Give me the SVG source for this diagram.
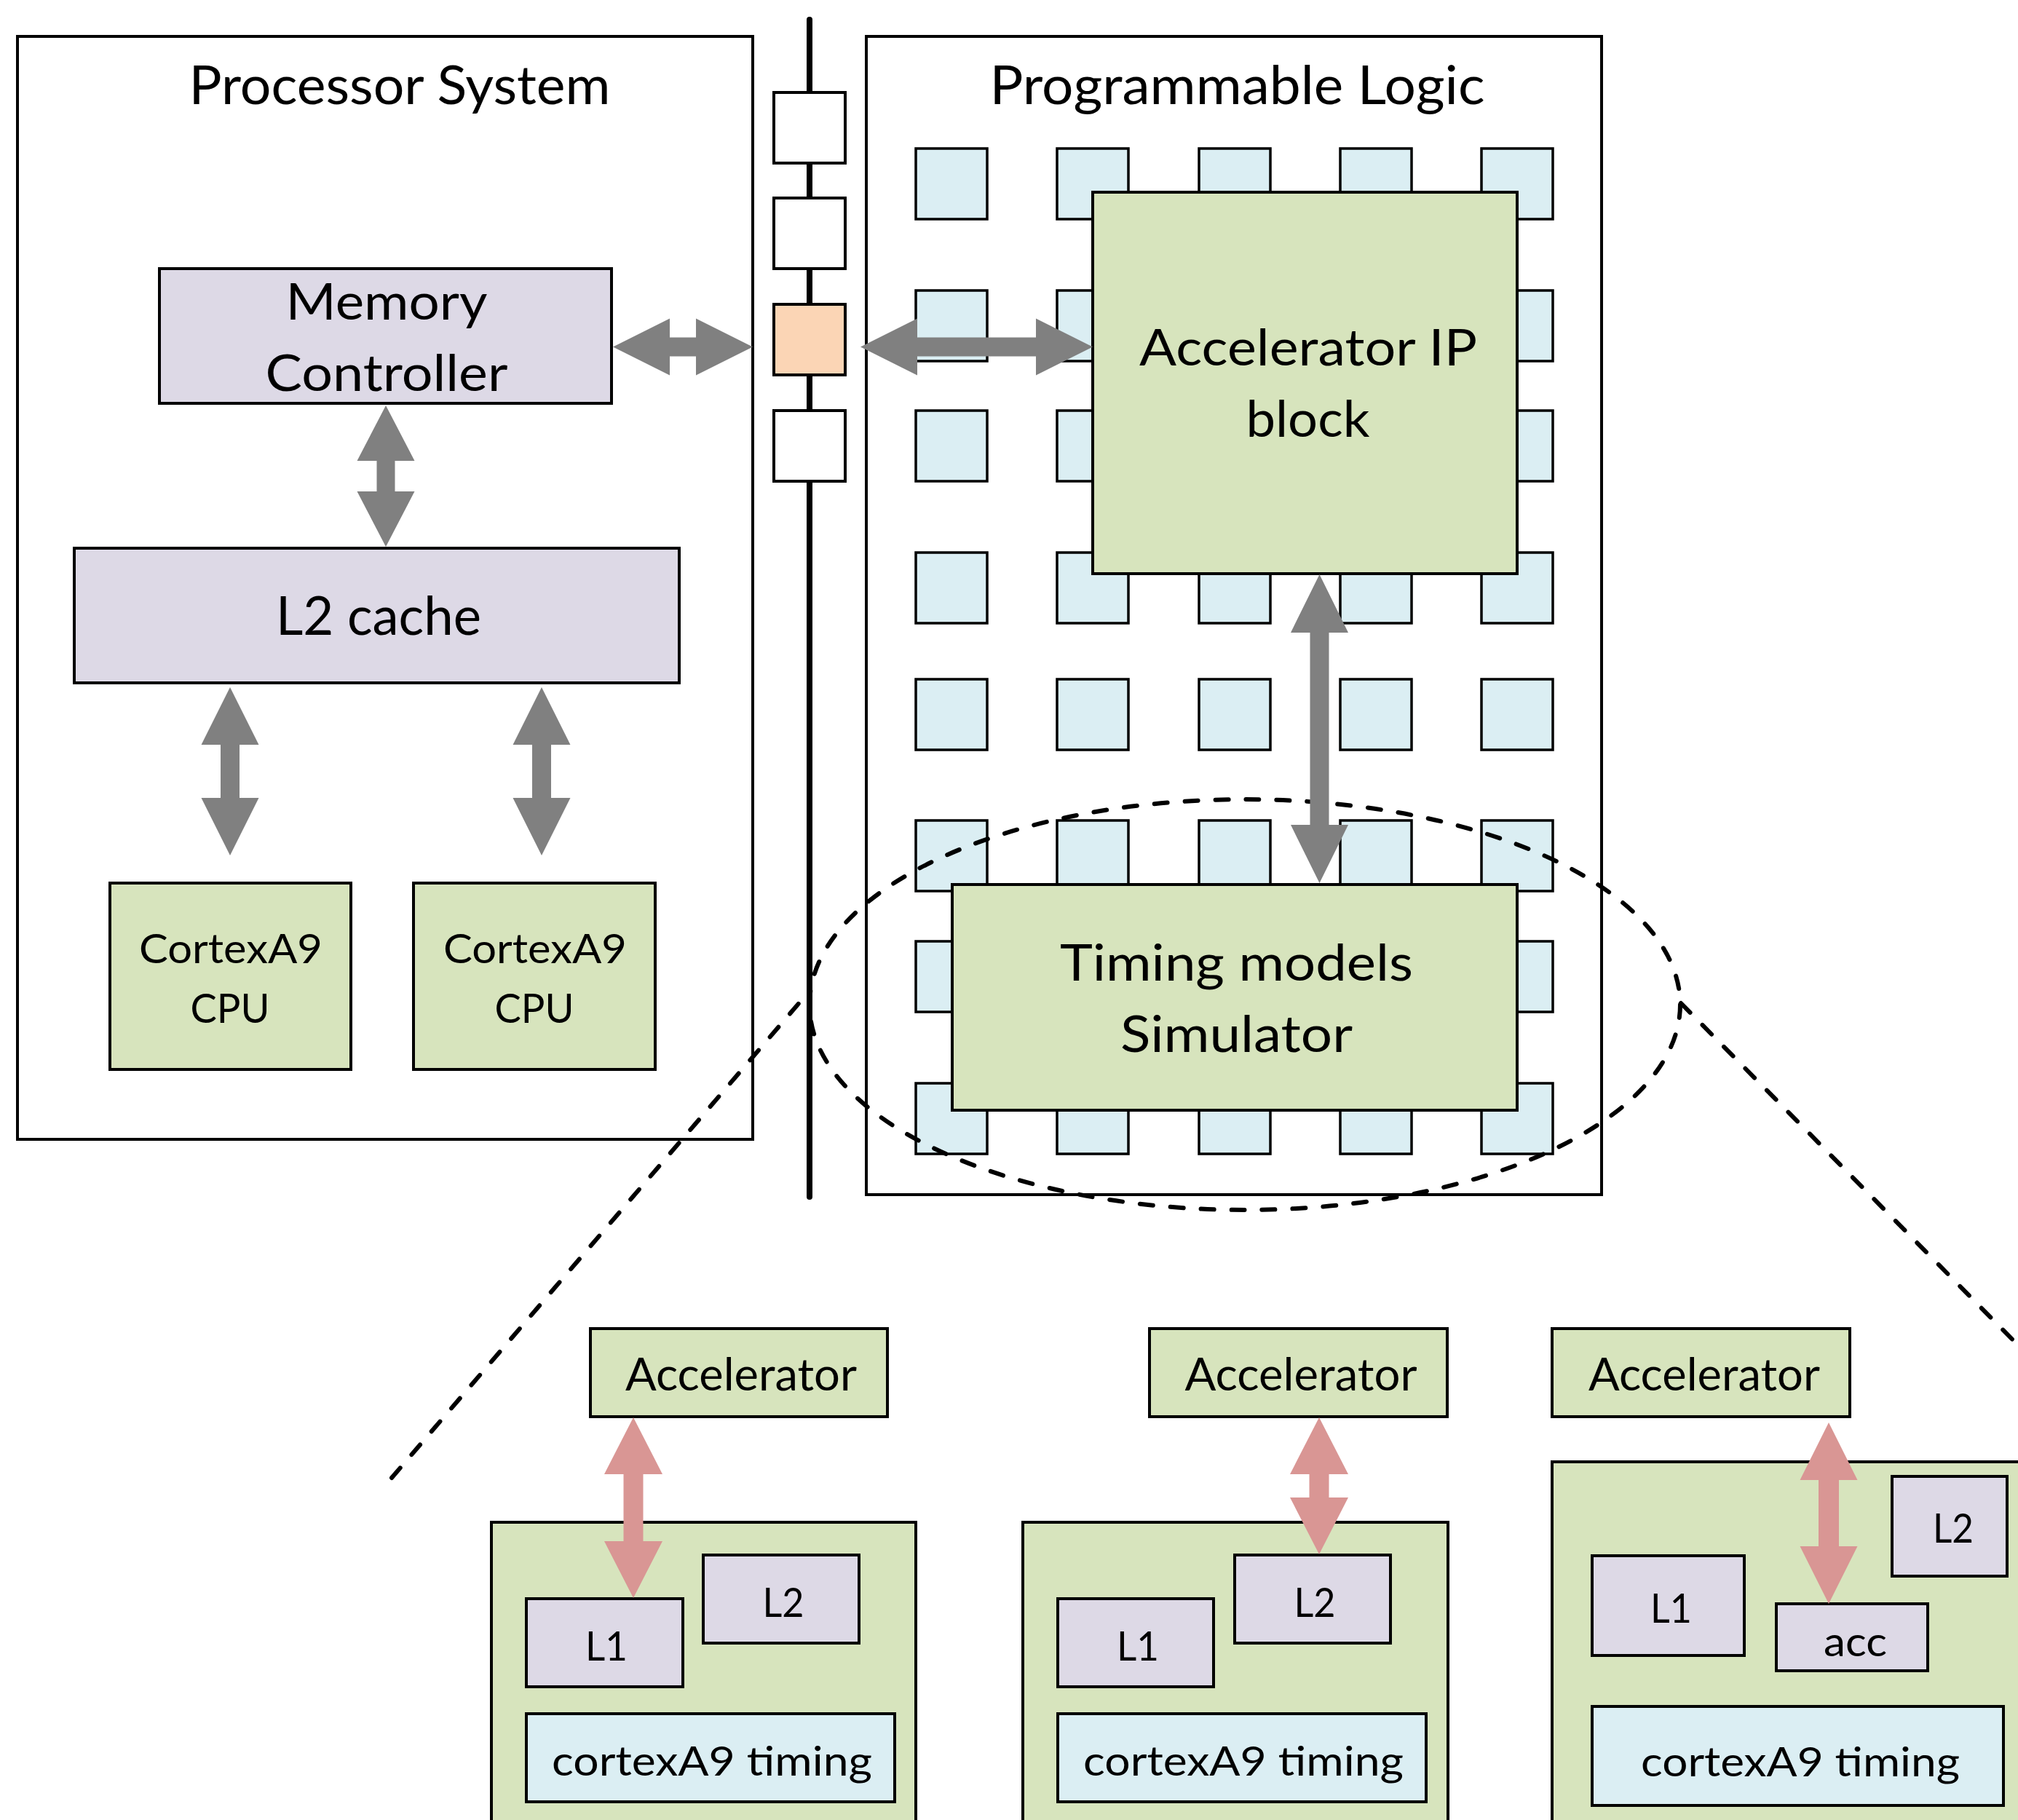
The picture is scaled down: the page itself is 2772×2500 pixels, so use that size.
<svg xmlns="http://www.w3.org/2000/svg" width="2772" height="2500" viewBox="0 0 2772 2500">
<style>
text{font-family:Lato,"Liberation Sans",sans-serif;fill:#000;text-anchor:middle}
.frame{fill:#fff;stroke:#000;stroke-width:4}
.box{stroke:#000;stroke-width:4}
.purple{fill:#DDD9E6}
.green{fill:#D7E4BD}
.blue{fill:#DBEEF3}
.cell{fill:#DBEEF3;stroke:#000;stroke-width:3.5}
.port{fill:#fff;stroke:#000;stroke-width:4}
.grey{fill:#808080}
.pink{fill:#D99694}
.dash{fill:none;stroke:#000;stroke-width:6;stroke-dasharray:18 24;stroke-linecap:round}
.t72{font-size:73px}.t68{font-size:69px}.t60{font-size:61px}.t56{font-size:57px}
</style>
<rect width="2772" height="2500" fill="#fff"/>
<g id="processor-system">
<rect class="frame" x="24" y="50" width="1010" height="1515"/>
<text class="t72" x="549" y="143" textLength="579" lengthAdjust="spacingAndGlyphs">Processor System</text>
</g>
<g id="programmable-logic">
<rect class="frame" x="1190" y="50" width="1010" height="1591"/>
<text class="t72" x="1699.5" y="143" textLength="680" lengthAdjust="spacingAndGlyphs">Programmable Logic</text>
</g>
<g id="fabric-cells">
<g id="row1"><rect class="cell" x="1258" y="204" width="98" height="97"/><rect class="cell" x="1452" y="204" width="98" height="97"/><rect class="cell" x="1647" y="204" width="98" height="97"/><rect class="cell" x="1841" y="204" width="98" height="97"/><rect class="cell" x="2035" y="204" width="98" height="97"/></g>
<g id="row2"><rect class="cell" x="1258" y="399" width="98" height="97"/><rect class="cell" x="1452" y="399" width="98" height="97"/><rect class="cell" x="1647" y="399" width="98" height="97"/><rect class="cell" x="1841" y="399" width="98" height="97"/><rect class="cell" x="2035" y="399" width="98" height="97"/></g>
<g id="row3"><rect class="cell" x="1258" y="564" width="98" height="97"/><rect class="cell" x="1452" y="564" width="98" height="97"/><rect class="cell" x="1647" y="564" width="98" height="97"/><rect class="cell" x="1841" y="564" width="98" height="97"/><rect class="cell" x="2035" y="564" width="98" height="97"/></g>
<g id="row4"><rect class="cell" x="1258" y="759" width="98" height="97"/><rect class="cell" x="1452" y="759" width="98" height="97"/><rect class="cell" x="1647" y="759" width="98" height="97"/><rect class="cell" x="1841" y="759" width="98" height="97"/><rect class="cell" x="2035" y="759" width="98" height="97"/></g>
<g id="row5"><rect class="cell" x="1258" y="933" width="98" height="97"/><rect class="cell" x="1452" y="933" width="98" height="97"/><rect class="cell" x="1647" y="933" width="98" height="97"/><rect class="cell" x="1841" y="933" width="98" height="97"/><rect class="cell" x="2035" y="933" width="98" height="97"/></g>
<g id="row6"><rect class="cell" x="1258" y="1127" width="98" height="97"/><rect class="cell" x="1452" y="1127" width="98" height="97"/><rect class="cell" x="1647" y="1127" width="98" height="97"/><rect class="cell" x="1841" y="1127" width="98" height="97"/><rect class="cell" x="2035" y="1127" width="98" height="97"/></g>
<g id="row7"><rect class="cell" x="1258" y="1293" width="98" height="97"/><rect class="cell" x="1452" y="1293" width="98" height="97"/><rect class="cell" x="1647" y="1293" width="98" height="97"/><rect class="cell" x="1841" y="1293" width="98" height="97"/><rect class="cell" x="2035" y="1293" width="98" height="97"/></g>
<g id="row8"><rect class="cell" x="1258" y="1488" width="98" height="97"/><rect class="cell" x="1452" y="1488" width="98" height="97"/><rect class="cell" x="1647" y="1488" width="98" height="97"/><rect class="cell" x="1841" y="1488" width="98" height="97"/><rect class="cell" x="2035" y="1488" width="98" height="97"/></g>
</g>
<g id="bus">
<line x1="1112" y1="27" x2="1112" y2="1644" stroke="#000" stroke-width="8" stroke-linecap="round"/>
<rect class="port" x="1063" y="127" width="98" height="97"/>
<rect class="port" x="1063" y="272" width="98" height="97"/>
<rect class="port" x="1063" y="418" width="98" height="97" style="fill:#FBD5B5"/>
<rect class="port" x="1063" y="564" width="98" height="97"/>
</g>
<g id="memory-controller">
<rect class="box purple" x="219" y="369" width="621" height="185"/>
<text class="t68" x="531" y="439" textLength="277" lengthAdjust="spacingAndGlyphs">Memory</text>
<text class="t68" x="531" y="537" textLength="333" lengthAdjust="spacingAndGlyphs">Controller</text>
</g>
<g id="l2-cache">
<rect class="box purple" x="102" y="753" width="831" height="185"/>
<text class="t72" x="520" y="872" textLength="282" lengthAdjust="spacingAndGlyphs">L2 cache</text>
</g>
<g id="cpu0">
<rect class="box green" x="151" y="1213" width="331" height="256"/>
<text class="t56" x="317" y="1323" textLength="252" lengthAdjust="spacingAndGlyphs">CortexA9</text>
<text class="t56" x="316" y="1405" textLength="109" lengthAdjust="spacingAndGlyphs">CPU</text>
</g>
<g id="cpu1">
<rect class="box green" x="568" y="1213" width="332" height="256"/>
<text class="t56" x="735" y="1323" textLength="252" lengthAdjust="spacingAndGlyphs">CortexA9</text>
<text class="t56" x="734" y="1405" textLength="109" lengthAdjust="spacingAndGlyphs">CPU</text>
</g>
<g id="accelerator-ip">
<rect class="box green" x="1501" y="264" width="583" height="524"/>
<text class="t68" x="1797" y="502" textLength="464" lengthAdjust="spacingAndGlyphs">Accelerator IP</text>
<text class="t68" x="1796.5" y="600" textLength="170" lengthAdjust="spacingAndGlyphs">block</text>
</g>
<g id="timing-simulator">
<rect class="box green" x="1308" y="1215" width="776" height="310"/>
<text class="t68" x="1698.5" y="1347" textLength="485" lengthAdjust="spacingAndGlyphs">Timing models</text>
<text class="t68" x="1698.5" y="1445" textLength="319" lengthAdjust="spacingAndGlyphs">Simulator</text>
</g>
<g id="zoom-callout">
<ellipse class="dash" cx="1710" cy="1380" rx="598" ry="282"/>
<line class="dash" x1="538" y1="2030" x2="1112" y2="1361"/>
<line class="dash" x1="2309" y1="1378" x2="2790" y2="1866"/>
</g>
<g id="variant1">
<rect class="box green" x="675" y="2091" width="583" height="430"/>
<g id="v1-acc"><rect class="box green" x="811" y="1825" width="408" height="121"/><text class="t60" x="1018" y="1910" textLength="318" lengthAdjust="spacingAndGlyphs">Accelerator</text></g>
<g id="v1-l1"><rect class="box purple" x="723" y="2196" width="215" height="121"/><text class="t56" x="833" y="2281" textLength="58" lengthAdjust="spacingAndGlyphs">L1</text></g>
<g id="v1-l2"><rect class="box purple" x="966" y="2136" width="214" height="121"/><text class="t56" x="1076" y="2221" textLength="57" lengthAdjust="spacingAndGlyphs">L2</text></g>
<g id="v1-timing"><rect class="box blue" x="723" y="2354" width="506" height="121"/><text class="t56" x="978" y="2439" textLength="440" lengthAdjust="spacingAndGlyphs">cortexA9 timing</text></g>
</g>
<g id="variant2">
<rect class="box green" x="1405" y="2091" width="584" height="430"/>
<g id="v2-acc"><rect class="box green" x="1579" y="1825" width="409" height="121"/><text class="t60" x="1787" y="1910" textLength="319" lengthAdjust="spacingAndGlyphs">Accelerator</text></g>
<g id="v2-l1"><rect class="box purple" x="1453" y="2196" width="214" height="121"/><text class="t56" x="1563" y="2281" textLength="58" lengthAdjust="spacingAndGlyphs">L1</text></g>
<g id="v2-l2"><rect class="box purple" x="1696" y="2136" width="214" height="121"/><text class="t56" x="1806" y="2221" textLength="57" lengthAdjust="spacingAndGlyphs">L2</text></g>
<g id="v2-timing"><rect class="box blue" x="1453" y="2354" width="506" height="121"/><text class="t56" x="1708" y="2439" textLength="440" lengthAdjust="spacingAndGlyphs">cortexA9 timing</text></g>
</g>
<g id="variant3">
<rect class="box green" x="2132" y="2008" width="660" height="520"/>
<g id="v3-acc"><rect class="box green" x="2132" y="1825" width="409" height="121"/><text class="t60" x="2341" y="1910" textLength="318" lengthAdjust="spacingAndGlyphs">Accelerator</text></g>
<g id="v3-l2"><rect class="box purple" x="2599" y="2028" width="158" height="137"/><text class="t56" x="2683" y="2119" textLength="56" lengthAdjust="spacingAndGlyphs">L2</text></g>
<g id="v3-l1"><rect class="box purple" x="2187" y="2137" width="209" height="137"/><text class="t56" x="2295.5" y="2229" textLength="57" lengthAdjust="spacingAndGlyphs">L1</text></g>
<g id="v3-accmod"><rect class="box purple" x="2440" y="2203" width="208" height="92"/><text class="t56" x="2548.5" y="2275" textLength="87" lengthAdjust="spacingAndGlyphs">acc</text></g>
<g id="v3-timing"><rect class="box blue" x="2187" y="2344" width="565" height="136"/><text class="t56" x="2473" y="2440" textLength="438" lengthAdjust="spacingAndGlyphs">cortexA9 timing</text></g>
</g>
<g id="connectors">
<polygon class="grey" points="530,557 569.5,633 542.5,633 542.5,675 569.5,675 530,751 490.5,675 517.5,675 517.5,633 490.5,633"/>
<polygon class="grey" points="316,944 355.5,1023 329,1023 329,1096 355.5,1096 316,1175 276.5,1096 303,1096 303,1023 276.5,1023"/>
<polygon class="grey" points="744,944 783.5,1023 757,1023 757,1096 783.5,1096 744,1175 704.5,1096 731,1096 731,1023 704.5,1023"/>
<polygon class="grey" points="842,476.5 920,437.5 920,463.5 956,463.5 956,437.5 1034,476.5 956,515.5 956,489.5 920,489.5 920,515.5"/>
<polygon class="grey" points="1182,476.5 1260,437.5 1260,463.5 1423,463.5 1423,437.5 1501,476.5 1423,515.5 1423,489.5 1260,489.5 1260,515.5"/>
<polygon class="grey" points="1812.5,789 1852,869 1825.5,869 1825.5,1133 1852,1133 1812.5,1213 1773,1133 1799.5,1133 1799.5,869 1773,869"/>
<polygon class="pink" points="870,1947 910,2025 883.5,2025 883.5,2117 910,2117 870,2195 830,2117 856.5,2117 856.5,2025 830,2025"/>
<polygon class="pink" points="1812,1947 1852,2025 1825.5,2025 1825.5,2057 1852,2057 1812,2135 1772,2057 1798.5,2057 1798.5,2025 1772,2025"/>
<polygon class="pink" points="2512,1954 2551.5,2033 2526,2033 2526,2124 2551.5,2124 2512,2203 2472.5,2124 2498,2124 2498,2033 2472.5,2033"/>
</g>
</svg>
